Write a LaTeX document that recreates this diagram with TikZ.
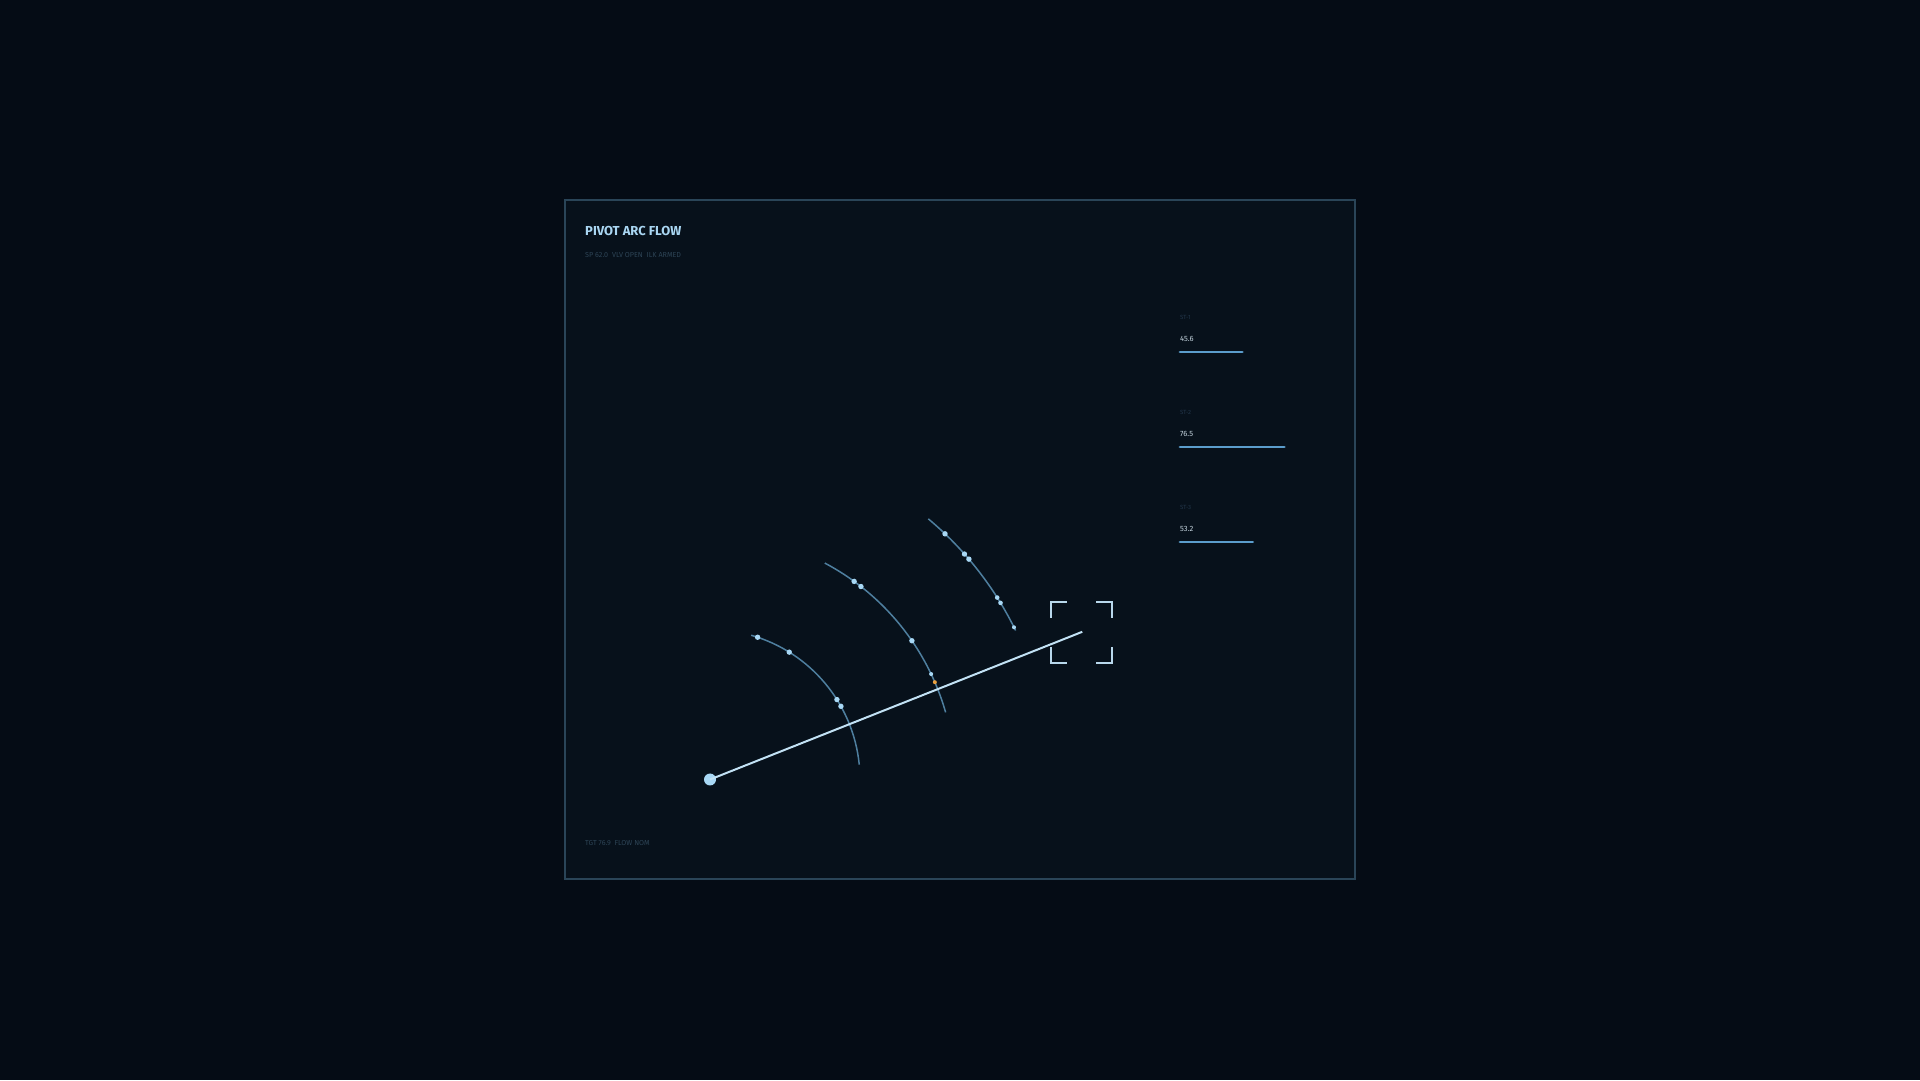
\documentclass[tikz,border=0pt]{standalone}
\usepackage{fontspec}
\setmainfont{Fira Sans}
\usetikzlibrary{calc}
\definecolor{bgc}{HTML}{050C15}
\definecolor{panelc}{HTML}{07111B}
\definecolor{framec}{HTML}{2A4558}
\definecolor{titlec}{HTML}{A9D6F2}
\definecolor{dimc}{HTML}{2D4456}
\definecolor{stc}{HTML}{22364A}
\definecolor{valc}{HTML}{C5D5DF}
\definecolor{barc}{HTML}{5B9DCC}
\definecolor{linec}{HTML}{C2E2F5}
\definecolor{arcc}{HTML}{4E7F9F}
\definecolor{dotc}{HTML}{A8D8F5}
\definecolor{orangec}{HTML}{E8A040}
\definecolor{brackc}{HTML}{B8D8EC}
\tikzset{
  txt/.style={inner sep=0pt, anchor=base west},
  arcline/.style={draw=arcc, line width=1.5pt},
  dotbig/.style={circle, fill=dotc, inner sep=0pt, minimum size=5.4pt},
  dotmid/.style={circle, fill=dotc, inner sep=0pt, minimum size=4.6pt},
  dotsmall/.style={circle, fill=dotc, inner sep=0pt, minimum size=4pt},
  dotorange/.style={circle, fill=orangec, inner sep=0pt, minimum size=4pt},
  barline/.style={draw=barc, line width=2.8pt, line cap=round},
  brack/.style={draw=brackc, line width=2pt},
}
\begin{document}
\begin{tikzpicture}[x=1pt,y=1pt]
\useasboundingbox (0,0) rectangle (1920,1080);
\fill[bgc] (0,0) rectangle (1920,1080);
\draw[framec, line width=2pt, fill=panelc] (565,880) rectangle (1355,201);

% texts
\node[txt, font=\fontsize{13}{15}\selectfont\bfseries, text=titlec] (title) at (585,844.3) {PIVOT ARC FLOW};
\node[txt, font=\fontsize{7.2}{9}\selectfont, text=dimc] (sub) at (585,822) {SP 62.0\ \ VLV OPEN\ \ ILK ARMED};
\node[txt, font=\fontsize{7.2}{9}\selectfont, text=dimc] (foot) at (585,235) {TGT 76.9\ \ FLOW NOM};

% side stats
\node[txt, font=\fontsize{6}{7}\selectfont, text=stc] (st1) at (1180,760.7) {ST-1};
\node[txt, font=\fontsize{7.6}{9}\selectfont, text=valc] (v1) at (1180,738) {45.6};
\coordinate (b1a) at (1180,728); \coordinate (b1b) at (1242.3,728);
\draw[barline] (b1a) -- (b1b);
\node[txt, font=\fontsize{6}{7}\selectfont, text=stc] (st2) at (1180,665.7) {ST-2};
\node[txt, font=\fontsize{7.6}{9}\selectfont, text=valc] (v2) at (1180,643.3) {76.5};
\coordinate (b2a) at (1180,633); \coordinate (b2b) at (1284.3,633);
\draw[barline] (b2a) -- (b2b);
\node[txt, font=\fontsize{6}{7}\selectfont, text=stc] (st3) at (1180,570) {ST-3};
\node[txt, font=\fontsize{7.6}{9}\selectfont, text=valc] (v3) at (1180,548.3) {53.2};
\coordinate (b3a) at (1180,538); \coordinate (b3b) at (1252.7,538);
\draw[barline] (b3a) -- (b3b);

% pivot
\coordinate (P) at (710,300.5);
% arcs
\draw[arcline] ($(P)+(74.1:150)$) coordinate (a1s) arc[start angle=74.1, end angle=5.7, radius=150];
\draw[arcline] ($(P)+(62.05:245)$) coordinate (a2s) arc[start angle=62.05, end angle=15.9, radius=245];
\draw[arcline] ($(P)+(50.06:340)$) coordinate (a3s) arc[start angle=50.06, end angle=26.0, radius=340];

% main line
\coordinate (E) at ($(P)+(21.64:400.5)$);
\node[circle, fill=dotc, inner sep=0pt, minimum size=12pt] (pivot) at (P) {};
\draw[linec, line width=2pt] (pivot.center) -- (E);

% dots
\node[dotbig] (d11) at ($(P)+(71.5:150)$) {};
\node[dotbig] (d12) at ($(P)+(58.1:150)$) {};
\node[dotbig] (d13) at ($(P)+(32.2:150)$) {};
\node[dotbig] (d14) at ($(P)+(29.2:150)$) {};
\node[dotbig] (d21) at ($(P)+(53.96:245)$) {};
\node[dotbig] (d22) at ($(P)+(51.97:245)$) {};
\node[dotbig] (d23) at ($(P)+(34.5:245)$) {};
\node[dotsmall] (d24) at ($(P)+(25.5:245)$) {};
\node[dotorange] (d25) at ($(P)+(23.4:245)$) {};
\node[dotbig] (d31) at ($(P)+(46.27:340)$) {};
\node[dotbig] (d32) at ($(P)+(41.54:340)$) {};
\node[dotbig] (d33) at ($(P)+(40.4:340)$) {};
\node[dotmid] (d34) at ($(P)+(32.35:340)$) {};
\node[dotmid] (d35) at ($(P)+(31.3:340)$) {};
\node[dotsmall] (d36) at ($(P)+(26.6:340)$) {};

% target bracket
\coordinate (T) at (1081.7,447.7);
\draw[brack] ($(T)+(-30.5,14.5)$) -- ($(T)+(-30.5,30.5)$) -- ($(T)+(-14.5,30.5)$);
\draw[brack] ($(T)+(14.5,30.5)$) -- ($(T)+(30.5,30.5)$) -- ($(T)+(30.5,14.5)$);
\draw[brack] ($(T)+(-30.5,-14.5)$) -- ($(T)+(-30.5,-30.5)$) -- ($(T)+(-14.5,-30.5)$);
\draw[brack] ($(T)+(14.5,-30.5)$) -- ($(T)+(30.5,-30.5)$) -- ($(T)+(30.5,-14.5)$);
\end{tikzpicture}
\end{document}
